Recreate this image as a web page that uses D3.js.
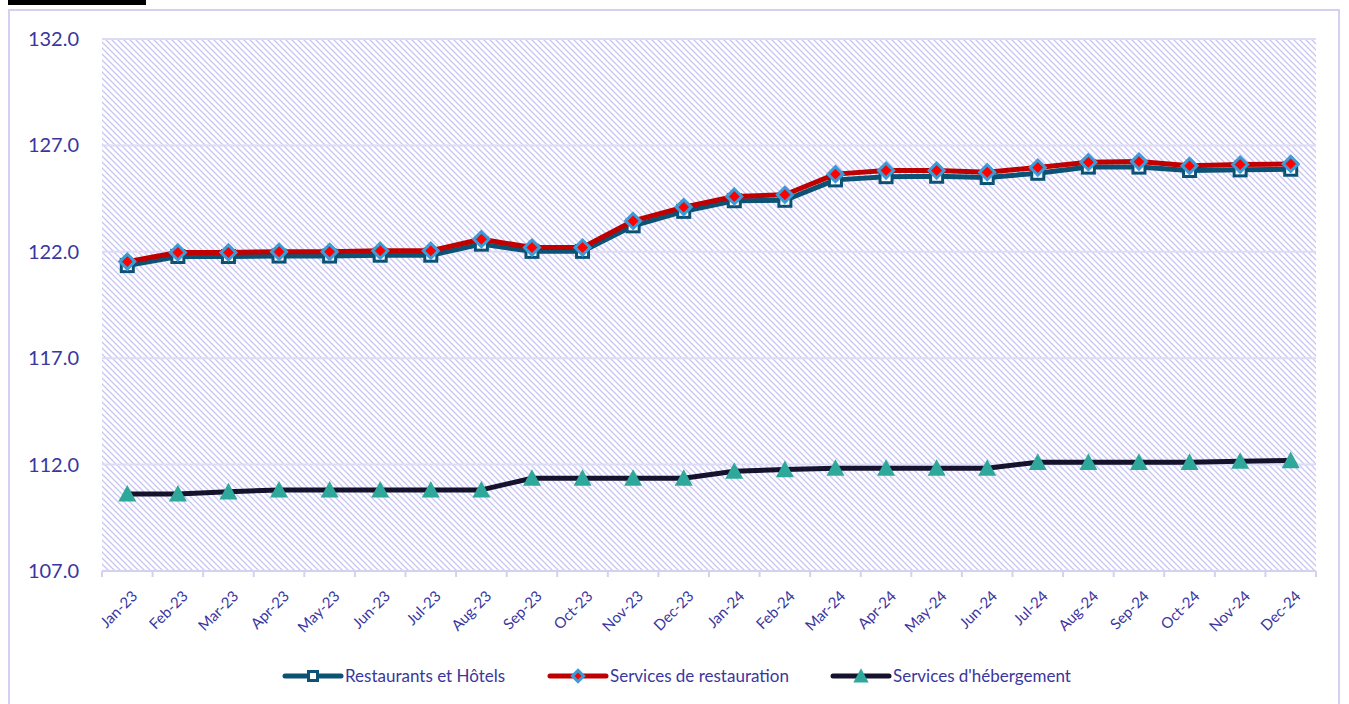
<!DOCTYPE html>
<html><head><meta charset="utf-8">
<script src="https://cdn.jsdelivr.net/npm/d3@7"></script>
<style>body{margin:0;background:#fff;overflow:hidden}svg{display:block}</style>
</head><body>
<script>
const categories = ["Jan-23","Feb-23","Mar-23","Apr-23","May-23","Jun-23","Jul-23","Aug-23","Sep-23","Oct-23","Nov-23","Dec-23",
  "Jan-24","Feb-24","Mar-24","Apr-24","May-24","Jun-24","Jul-24","Aug-24","Sep-24","Oct-24","Nov-24","Dec-24"];
const restaurantsHotels = [121.35,121.78,121.78,121.8,121.8,121.84,121.84,122.36,122.02,122.02,123.22,123.9,
  124.4,124.42,125.38,125.53,125.55,125.49,125.69,125.98,125.98,125.82,125.85,125.88];
const servicesRestauration = [121.54,121.97,121.97,122.0,122.0,122.05,122.05,122.59,122.2,122.2,123.45,124.1,
  124.6,124.68,125.65,125.82,125.82,125.74,125.96,126.21,126.24,126.04,126.1,126.13];
const servicesHebergement = [110.62,110.62,110.72,110.81,110.81,110.81,110.81,110.81,111.36,111.36,111.36,111.36,
  111.69,111.77,111.83,111.83,111.83,111.83,112.11,112.11,112.11,112.11,112.16,112.19];
const yTicks = [107,112,117,122,127,132];
const seriesNames = ["Restaurants et Hôtels","Services de restauration","Services d'hébergement"];

(function(){
const W=1349,H=704;
const svg=d3.select("body").append("svg").attr("width",W).attr("height",H);
const lav="#d3d0f2", txt="#3a36a0", font="Lato, 'Open Sans', sans-serif";

const defs=svg.append("defs");
const pat=defs.append("pattern").attr("id","hatch").attr("patternUnits","userSpaceOnUse").attr("width",6).attr("height",6);
pat.append("rect").attr("width",6).attr("height",6).attr("fill","#fff");
pat.append("path").attr("d","M0,0 L6,6 M-3,3 L3,9 M3,-3 L9,3").attr("stroke","#c8c4f0").attr("stroke-width",1.25);

// black bar remnant at the very top (cut-off heading)
svg.append("rect").attr("x",8).attr("y",0).attr("width",138).attr("height",5).attr("fill","#000");

svg.append("rect").attr("x",9).attr("y",10).attr("width",1330).attr("height",700)
  .attr("fill","none").attr("stroke",lav).attr("stroke-width",2);

const pL=102,pR=1316,pT=39,pB=571;
const x=d3.scaleBand().domain(categories).range([pL,pR]);
const y=d3.scaleLinear().domain([107,132]).range([pB,pT]);

svg.append("rect").attr("x",pL).attr("y",pT).attr("width",pR-pL).attr("height",pB-pT).attr("fill","url(#hatch)");

svg.append("g").selectAll("line").data(yTicks.slice(1)).join("line")
  .attr("x1",pL).attr("x2",pR).attr("y1",d=>y(d)).attr("y2",d=>y(d))
  .attr("stroke","#dddbf6").attr("stroke-width",2);

const yAxis=svg.append("g").attr("transform",`translate(${pL},0)`)
  .call(d3.axisLeft(y).tickValues(yTicks).tickFormat(d3.format(".1f")).tickSize(0).tickPadding(23));
yAxis.select(".domain").remove();
yAxis.selectAll("text").attr("font-family",font).attr("font-size",20).attr("fill",txt);

const xAxis=svg.append("g").attr("transform",`translate(0,${pB})`)
  .call(d3.axisBottom(x).tickSize(0));
xAxis.select(".domain").attr("stroke",lav).attr("stroke-width",2).attr("d",`M${pL},0H${pR}`);
xAxis.selectAll("text").attr("font-family",font).attr("font-size",15).attr("fill",txt)
  .attr("text-anchor","end").attr("x",0).attr("y",0).attr("dy",0)
  .attr("transform","translate(11,26) rotate(-45)");
svg.append("g").selectAll("line").data(categories.concat(["_end"])).join("line")
  .attr("x1",(d,i)=>pL+i*x.bandwidth()).attr("x2",(d,i)=>pL+i*x.bandwidth())
  .attr("y1",pB).attr("y2",pB+6).attr("stroke",lav).attr("stroke-width",2);

const cx=d=>x(d)+x.bandwidth()/2;
const line=d3.line().x((d,i)=>cx(categories[i])).y(d=>y(d));

const styles=[
  {data:restaurantsHotels,color:"#0c5275"},
  {data:servicesRestauration,color:"#c00000"},
  {data:servicesHebergement,color:"#14122c"}];

function drawMarker(g,type,px,py,scale=1){
  if(type===0){
    g.append("rect").attr("x",px-6*scale).attr("y",py-6*scale).attr("width",12*scale).attr("height",12*scale)
      .attr("fill","#fff").attr("stroke","#0c5275").attr("stroke-width",3);
  } else if(type===1){
    const s=7.5*scale;
    g.append("path").attr("d",`M${px},${py-s}L${px+s},${py}L${px},${py+s}L${px-s},${py}Z`)
      .attr("fill","#ff0000").attr("stroke","#3d9bd8").attr("stroke-width",3);
  } else {
    const s=9*scale;
    g.append("path").attr("d",`M${px},${py-s}L${px+s},${py+s*0.85}L${px-s},${py+s*0.85}Z`).attr("fill","#2fa89c");
  }
}

[2,0,1].forEach(k=>{
  const st=styles[k];
  const g=svg.append("g");
  g.append("path").attr("d",line(st.data)).attr("fill","none").attr("stroke",st.color).attr("stroke-width",5).attr("stroke-linejoin","round");
  st.data.forEach((v,i)=>drawMarker(g,k,cx(categories[i]),y(v)));
});

const legX=[285,550,833];
seriesNames.forEach((n,k)=>{
  const g=svg.append("g");
  const lx=legX[k], ly=676;
  g.append("line").attr("x1",lx).attr("x2",lx+56).attr("y1",ly).attr("y2",ly).attr("stroke",styles[k].color).attr("stroke-width",5).attr("stroke-linecap","round");
  drawMarker(g,k,lx+28,ly,k===2?0.85:0.75);
  g.append("text").attr("x",lx+60).attr("y",ly).attr("dy","0.35em").attr("font-family",font).attr("font-size",17).attr("fill",txt).text(n);
});
})();
</script>
</body></html>
